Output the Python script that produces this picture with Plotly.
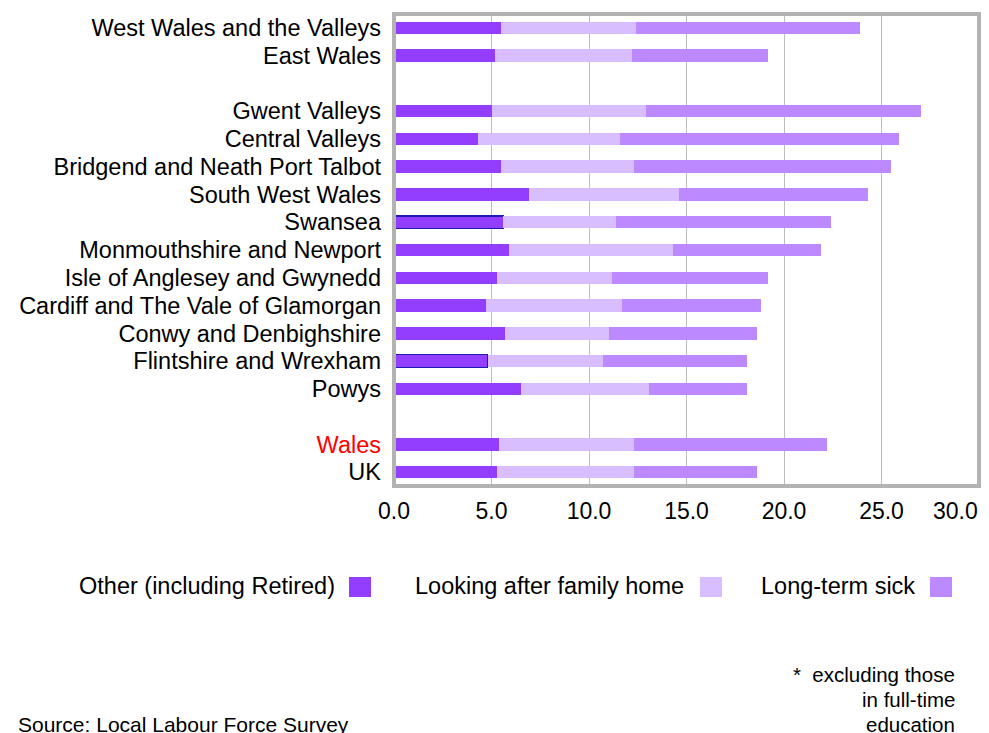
import plotly.graph_objects as go

# Rows from top to bottom; "" marks an empty spacer row
rows = [
    "West Wales and the Valleys", "East Wales", "",
    "Gwent Valleys", "Central Valleys", "Bridgend and Neath Port Talbot",
    "South West Wales", "Swansea", "Monmouthshire and Newport",
    "Isle of Anglesey and Gwynedd", "Cardiff and The Vale of Glamorgan",
    "Conwy and Denbighshire", "Flintshire and Wrexham", "Powys", "",
    "Wales", "UK",
]
regions = [r for r in rows if r]

other = [5.5, 5.2, 5.0, 4.3, 5.5, 6.9, 5.6, 5.9, 5.3, 4.7, 5.7, 4.8, 6.5, 5.4, 5.3]
family = [6.9, 7.0, 7.9, 7.3, 6.8, 7.7, 5.8, 8.4, 5.9, 7.0, 5.3, 5.9, 6.6, 6.9, 7.0]
sick = [11.5, 7.0, 14.1, 14.3, 13.2, 9.7, 11.0, 7.6, 8.0, 7.1, 7.6, 7.4, 5.0, 9.9, 6.3]

x_ticks = [0, 5, 10, 15, 20, 25, 30]
x_tick_labels = ["0.0", "5.0", "10.0", "15.0", "20.0", "25.0", "30.0"]

series_names = ["Other (including Retired)", "Looking after family home", "Long-term sick"]
colors = ["#933eff", "#d9beff", "#bc8afe"]
outlined = ["Swansea", "Flintshire and Wrexham"]

footnote_lines = ["*  excluding those", "in full-time", "education"]

ypos = [rows.index(r) for r in regions]
tick_text = ["<span style='color:#ff0000'>Wales</span>" if r == "Wales" else r for r in regions]

font = "Liberation Sans, Arial, Helvetica, sans-serif"

# page has an 8px body margin; figure is sized/offset to compensate
PX0, PY0 = 8, 8
W, H = 981, 725
L, R, T, B = 386, 10, 6, 247
PW, PH = W - L - R, H - T - B
def px(x):
    return (x - PX0 - L) / PW
def py(y):
    return (PY0 + T + PH - y) / PH

fig = go.Figure()
for name, vals, col in zip(series_names, [other, family, sick], colors):
    lw = [1.2 if (name == series_names[0] and r in outlined) else 0 for r in regions]
    fig.add_trace(go.Bar(
        x=vals, y=ypos, orientation="h", name=name, width=0.45,
        marker=dict(color=col, line=dict(color="#1c1cb0", width=lw)),
        showlegend=False,
    ))

fig.update_layout(
    barmode="stack",
    width=W, height=H,
    margin=dict(l=L, r=R, t=T, b=B),
    paper_bgcolor="white", plot_bgcolor="white",
    font=dict(family=font, size=23, color="#000000"),
    xaxis=dict(range=[x_ticks[0], x_ticks[-1]], tickvals=x_ticks,
               ticktext=x_tick_labels[:-1] + [""], showgrid=True,
               gridcolor="#bdbdbd", gridwidth=1, zeroline=False, showline=False,
               ticks="", ticklabelstandoff=9, tickfont=dict(size=23)),
    yaxis=dict(range=[len(rows) - 0.5, -0.5], tickvals=ypos, ticktext=tick_text,
               showgrid=False, zeroline=False, showline=False, ticks="",
               ticklabelstandoff=12, tickfont=dict(size=23.5)),
)

# last x tick label is pulled inside the page edge, as in the original
fig.add_annotation(text=x_tick_labels[-1], xref="paper", yref="paper",
                   x=px(980), y=py(511), xanchor="right", yanchor="middle",
                   showarrow=False, font=dict(size=23, family=font))

# plot frame
fig.add_shape(type="rect", xref="paper", yref="paper", x0=0, x1=1, y0=0, y1=1,
              line=dict(color="#b3b3b3", width=4), fillcolor="rgba(0,0,0,0)", layer="above")

# custom legend: text followed by swatch
legend_items = [(337, 349), (686, 700), (917, 930)]
for (tx, sx), name, col in zip(legend_items, series_names, colors):
    fig.add_annotation(text=name, xref="paper", yref="paper",
                       x=px(tx), y=py(586), xanchor="right", yanchor="middle",
                       showarrow=False, font=dict(size=23.5, family=font))
    fig.add_shape(type="rect", xref="paper", yref="paper",
                  x0=px(sx), x1=px(sx + 22), y0=py(577), y1=py(597),
                  fillcolor=col, line=dict(width=0))

for line, yc in zip(footnote_lines, [674, 699, 724]):
    fig.add_annotation(text=line, xref="paper", yref="paper", x=px(957), y=py(yc),
                       xanchor="right", yanchor="middle", showarrow=False,
                       font=dict(size=20.5, family=font))
fig.add_annotation(text="Source: Local Labour Force Survey",
                   xref="paper", yref="paper", x=px(16), y=py(724),
                   xanchor="left", yanchor="middle", align="left", showarrow=False,
                   font=dict(size=21, family=font))

fig.write_html("out.html")
